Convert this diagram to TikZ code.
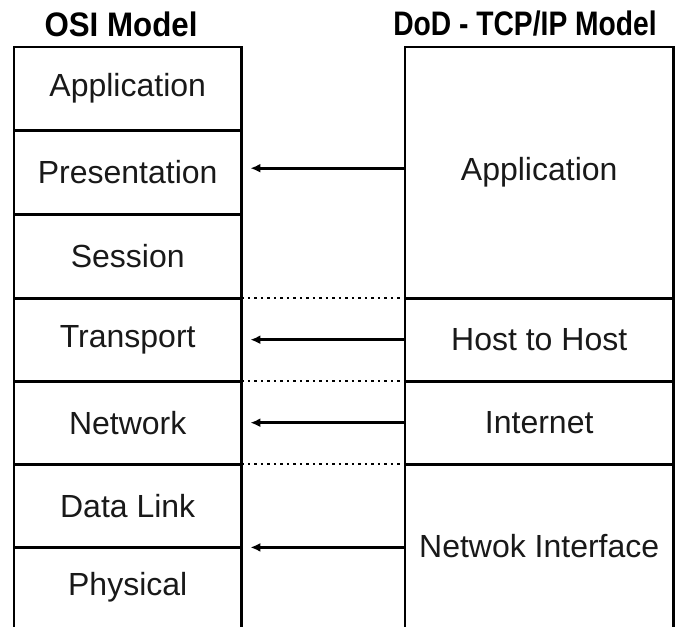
\documentclass[tikz,border=0pt]{standalone}
\usepackage{fontspec}
\setmainfont{Liberation Sans}
\usetikzlibrary{arrows.meta}
\tikzset{
  cell/.style={rectangle, inner sep=0pt, anchor=north west, font=\fontsize{32}{36}\selectfont, text=black!90},
  lcell/.style={cell, minimum width=227pt},
  rcell/.style={cell, minimum width=268pt},
  edge/.style={draw=black, line width=2.4pt, line join=miter},
  title/.style={font=\bfseries\fontsize{34}{38}\selectfont, transform shape},
  sep/.style={line width=2pt, dash pattern=on 2.5pt off 4pt},
  maparrow/.style={line width=2.6pt, -{Latex[length=10pt,width=9pt]}}
}
\begin{document}
\begin{tikzpicture}[x=1pt, y=-1pt]
\useasboundingbox (0,0) rectangle (694,627);

% OSI column
\node[lcell, minimum height=83pt] (app)   at (14,47)  {Application};
\node[lcell, minimum height=84pt] (pres)  at (14,130) {Presentation};
\node[lcell, minimum height=84pt] (sess)  at (14,214) {Session};
\node[lcell, minimum height=83pt] (trans) at (14,298) {Transport};
\node[lcell, minimum height=83pt] (net)   at (14,381) {Network};
\node[lcell, minimum height=83pt] (dlink) at (14,464) {Data Link};
\node[lcell, minimum height=80pt] (phys)  at (14,547) {Physical};

% DoD column
\node[rcell, minimum height=251pt] (tapp)  at (405,47)  {Application};
\node[rcell, minimum height=83pt]  (host)  at (405,298) {Host to Host};
\node[rcell, minimum height=83pt]  (inet)  at (405,381) {Internet};
\node[rcell, minimum height=163pt] (nif)   at (405,464) {Netwok Interface};

% column headings (narrow bold)
\begin{scope}[xscale=0.92]
\node[title] (osi) at (121/0.92,24) {OSI Model};
\end{scope}
\begin{scope}[xscale=0.83]
\node[title] (dod) at (525/0.83,24) {DoD - TCP/IP Model};
\end{scope}

% cell outlines (bottom row left open)
\foreach \c in {app,pres,sess,trans,net,dlink,tapp,host,inet}
  \draw[edge] (\c.south west) rectangle (\c.north east);
\draw[edge] (phys.south west) -- (phys.north west) -- (phys.north east) -- (phys.south east);
\draw[edge] (nif.south west) -- (nif.north west) -- (nif.north east) -- (nif.south east);

% layer boundaries carried across
\draw[sep] (sess.south east)  -- (tapp.south west);
\draw[sep] (trans.south east) -- (host.south west);
\draw[sep] (net.south east)   -- (inet.south west);

% mappings
\draw[maparrow] ([yshift=4pt]tapp.west |- pres.center) -- ([xshift=9pt,yshift=4pt]pres.east);
\draw[maparrow] (host.west)  -- ([xshift=9pt]trans.east);
\draw[maparrow] (inet.west)  -- ([xshift=9pt]net.east);
\draw[maparrow] (nif.west |- dlink.south) -- ([xshift=9pt]dlink.south east);
\end{tikzpicture}
\end{document}
